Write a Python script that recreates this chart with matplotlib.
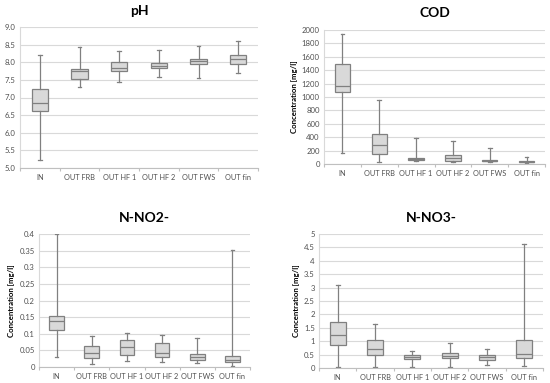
import matplotlib
matplotlib.use("Agg")
import matplotlib.pyplot as plt
import numpy as np

categories = ["IN", "OUT FRB", "OUT HF 1", "OUT HF 2", "OUT FWS", "OUT fin"]

# each series: whisker low, q1, median, q3, whisker high
ph_low  = [5.23, 7.30, 7.45, 7.58, 7.55, 7.70]
ph_q1   = [6.62, 7.52, 7.74, 7.84, 7.94, 7.95]
ph_med  = [6.85, 7.74, 7.83, 7.88, 8.04, 8.08]
ph_q3   = [7.23, 7.82, 8.00, 7.97, 8.10, 8.21]
ph_high = [8.20, 8.44, 8.32, 8.34, 8.46, 8.60]

cod_low  = [170, 30, 45, 35, 25, 10]
cod_q1   = [1080, 145, 55, 50, 40, 25]
cod_med  = [1160, 290, 70, 85, 50, 30]
cod_q3   = [1495, 454, 95, 140, 60, 40]
cod_high = [1935, 953, 392, 350, 245, 110]

no2_low  = [0.031, 0.010, 0.017, 0.015, 0.013, 0.003]
no2_q1   = [0.110, 0.028, 0.036, 0.030, 0.020, 0.014]
no2_med  = [0.137, 0.043, 0.060, 0.041, 0.030, 0.020]
no2_q3   = [0.152, 0.064, 0.081, 0.073, 0.038, 0.032]
no2_high = [0.400, 0.094, 0.103, 0.096, 0.086, 0.352]

no3_low  = [0.04, 0.05, 0.05, 0.05, 0.12, 0.08]
no3_q1   = [0.84, 0.49, 0.35, 0.36, 0.31, 0.36]
no3_med  = [1.25, 0.70, 0.42, 0.45, 0.40, 0.52]
no3_q3   = [1.70, 1.05, 0.50, 0.57, 0.47, 1.05]
no3_high = [3.10, 1.64, 0.65, 0.95, 0.70, 4.62]

W, H = 550, 383
fig = plt.figure(figsize=(5.5, 3.83), dpi=100)

def px_axes(l, r, t, b):
    return fig.add_axes([l / W, (H - b) / H, (r - l) / W, (b - t) / H])

FONT = "Lato"
gray = "#808080"
tickc = "#505050"

def panel(ax, title, low, q1, med, q3, high, ylim, yticks, yfmt, ylabel, title_y):
    stats = []
    for i in range(len(categories)):
        stats.append(dict(whislo=low[i], q1=q1[i], med=med[i], q3=q3[i], whishi=high[i], fliers=[]))
    ax.bxp(stats, positions=np.arange(len(categories)), widths=0.42, patch_artist=True,
           showfliers=False,
           boxprops=dict(facecolor="#d9d9d9", edgecolor=gray, linewidth=0.9),
           medianprops=dict(color=gray, linewidth=0.9),
           whiskerprops=dict(color=gray, linewidth=0.9),
           capprops=dict(color=gray, linewidth=0.9), capwidths=0.1)
    ax.set_ylim(*ylim)
    ax.set_xlim(-0.5, len(categories) - 0.5)
    ax.set_yticks(yticks)
    ax.set_yticklabels([yfmt(v) for v in yticks], fontsize=5.6, color=tickc, family=FONT)
    ax.set_xticks(np.arange(len(categories)))
    ax.set_xticklabels(categories, fontsize=5.3, color=tickc, family=FONT)
    ax.tick_params(axis="x", length=0, pad=4.5)
    ax.set_xticks(np.arange(len(categories) + 1) - 0.5, minor=True)
    ax.tick_params(axis="x", which="minor", length=2.5, color="#bfbfbf", width=0.8)
    ax.tick_params(axis="y", length=0, pad=3)
    ax.yaxis.grid(True, color="#d9d9d9", linewidth=0.8)
    ax.set_axisbelow(True)
    for s in ["top", "right"]:
        ax.spines[s].set_visible(False)
    ax.spines["left"].set_color("#d9d9d9")
    ax.spines["left"].set_linewidth(0.8)
    ax.spines["bottom"].set_color("#bfbfbf")
    ax.spines["bottom"].set_linewidth(0.8)
    if ylabel:
        ax.set_ylabel(ylabel, fontsize=5.6, fontweight="bold", family=FONT, labelpad=3)
    bb = ax.get_position()
    fig.text((bb.x0 + bb.x1) / 2, 1 - title_y / H, title, ha="center", va="center",
             fontsize=10, fontweight="bold", family=FONT)

ax1 = px_axes(20, 258, 27, 168)
panel(ax1, "pH", ph_low, ph_q1, ph_med, ph_q3, ph_high, (5.0, 9.0),
      np.arange(5.0, 9.01, 0.5), lambda v: f"{v:.1f}", None, 11)

ax2 = px_axes(324, 545, 30, 164)
panel(ax2, "COD", cod_low, cod_q1, cod_med, cod_q3, cod_high, (0, 2000),
      np.arange(0, 2001, 200), lambda v: f"{int(v)}", "Concentration [mg/l]", 13)

ax3 = px_axes(39, 250, 234, 367)
panel(ax3, "N-NO2-", no2_low, no2_q1, no2_med, no2_q3, no2_high, (0, 0.4),
      np.arange(0, 0.401, 0.05), lambda v: ("0" if v == 0 else f"{v:g}".rstrip("0")), "Concentration [mg/l]", 218)

ax4 = px_axes(319, 543, 234, 368)
panel(ax4, "N-NO3-", no3_low, no3_q1, no3_med, no3_q3, no3_high, (0, 5),
      np.arange(0, 5.01, 0.5), lambda v: f"{v:g}", "Concentration [mg/l]", 218)

fig.savefig("out.png", dpi=100)
